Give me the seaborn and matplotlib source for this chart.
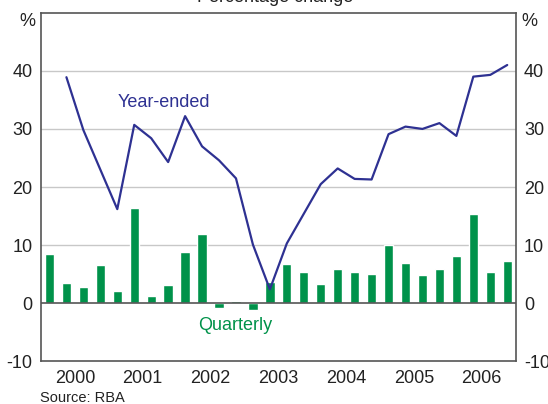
import numpy as np
import pandas as pd
import matplotlib
matplotlib.use("Agg")
import matplotlib.pyplot as plt
import seaborn as sns

# quarters 2000Q1 .. 2006Q4
years = [2000, 2001, 2002, 2003, 2004, 2005, 2006]
quarters = ["%dQ%d" % (y, q) for y in years for q in range(1, 5)]

quarterly = [8.5, 3.5, 2.8, 6.6, 2.1, 16.4, 1.3, 3.2, 8.8, 11.9, -0.8, 0.4, -1.1, 3.7,
             6.8, 5.3, 3.3, 5.9, 5.3, 5.0, 10.0, 6.9, 4.9, 5.9, 8.1, 15.4, 5.3, 7.3]
year_ended = [np.nan, 38.9, 29.8, 23.0, 16.2, 30.7, 28.4, 24.3, 32.2, 27.0, 24.6, 21.5, 10.1, 2.4,
              10.3, 15.4, 20.5, 23.2, 21.4, 21.3, 29.1, 30.4, 30.0, 31.0, 28.8, 39.0, 39.3, 41.0]

BLUE = "#2E3192"
GREEN = "#00924A"
GRID = "#C8C8C8"
SPINE = "#555555"
TXT = "#222222"
FS = 13

df = pd.DataFrame({"quarter": quarters, "pos": np.arange(len(quarters)),
                   "quarterly": quarterly, "year_ended": year_ended})

sns.set_style("white")
plt.rcParams['font.family'] = ['Liberation Sans', 'DejaVu Sans']

fig = plt.figure(figsize=(5.48, 4.04), dpi=100)
ax = fig.add_axes([41/548, 1-361.4/404, (515.7-41)/548, (361.4-12.7)/404])

for yv in [10, 20, 30, 40]:
    ax.axhline(yv, color=GRID, lw=1.0, zorder=0)

sns.barplot(data=df, x="quarter", y="quarterly", color=GREEN, width=0.55,
            saturation=1, ax=ax, zorder=2)
sns.lineplot(data=df, x="pos", y="year_ended", color=BLUE, lw=1.6, ax=ax, zorder=3)
ax.axhline(0, color=SPINE, lw=1.2, zorder=4)

ax.set_xlim(-0.5, len(quarters) - 0.5)
ax.set_ylim(-10, 50)
ax.set_xlabel("")
ax.set_ylabel("")

# year boundaries as ticks, year labels centred
ax.set_xticks([4*i - 0.5 for i in range(1, len(years))])
ax.set_xticklabels([])
ax.set_xticks([4*i + 1.5 for i in range(len(years))], minor=True)
ax.set_xticklabels([str(y) for y in years], minor=True, fontsize=FS)
ax.tick_params(axis="x", which="major", direction="in", length=6, color=SPINE, width=1)
ax.tick_params(axis="x", which="minor", length=0, pad=6, colors=TXT)

ax.set_yticks([-10, 0, 10, 20, 30, 40])
ax.set_yticklabels(["-10", "0", "10", "20", "30", "40"])
ax.tick_params(axis="y", which="both", length=0, labelsize=FS, labelcolor=TXT,
               labelleft=True, labelright=True, pad=6)

for s in ax.spines.values():
    s.set_color(SPINE)
    s.set_linewidth(1.2)

fig.text(164/548, 1-102.7/404, "Year-ended", color=BLUE, fontsize=FS,
         ha="center", va="center")
fig.text(235/548, 1-326/404, "Quarterly", color=GREEN, fontsize=FS,
         ha="center", va="center")
fig.text(27/548, 1-22/404, "%", fontsize=FS, ha="center", va="center", color=TXT)
fig.text(529/548, 1-22/404, "%", fontsize=FS, ha="center", va="center", color=TXT)
fig.text(275/548, 1-2/404, "Percentage change", fontsize=FS, ha="center",
         va="baseline", color=TXT)
fig.text(40/548, 1-398/404, "Source: RBA", fontsize=10.5, ha="left", va="center",
         color=TXT)

fig.savefig("out.png", dpi=100)
